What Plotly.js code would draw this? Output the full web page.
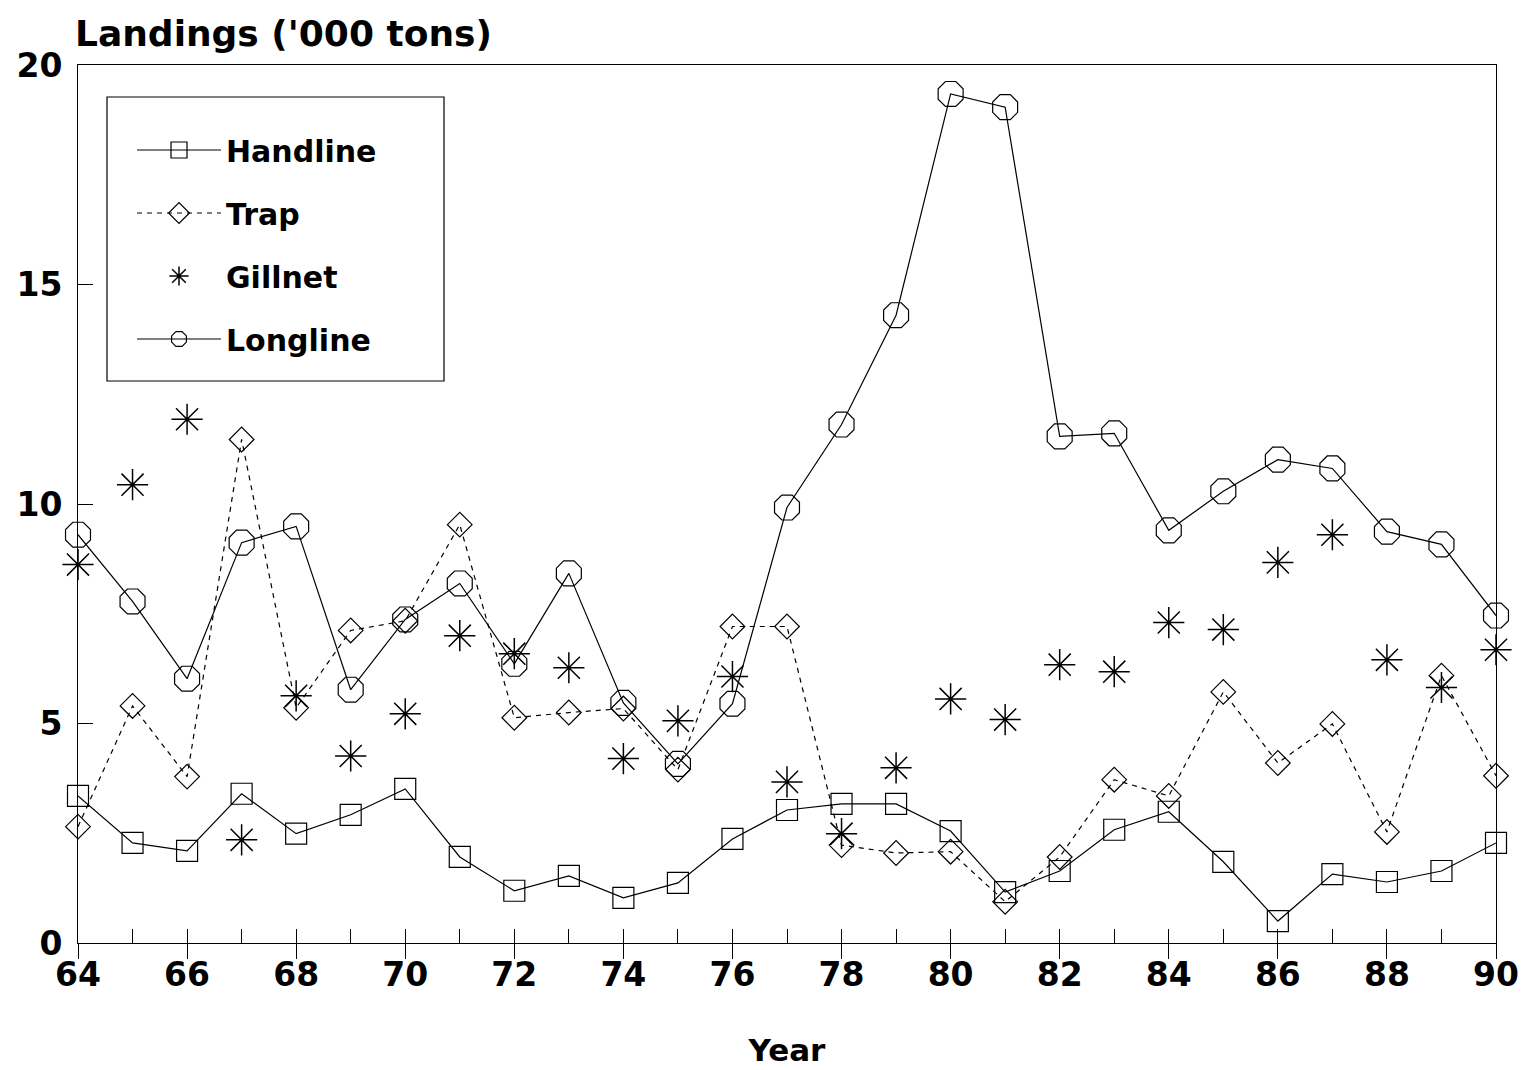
<!DOCTYPE html>
<html>
<head>
<meta charset="utf-8">
<script src="https://cdn.plot.ly/plotly-3.0.1.min.js"></script>
<style>html,body{margin:0;padding:0;background:#fff;}#chart{width:1528px;height:1070px;}</style>
</head>
<body>
<div id="chart"></div>
<script>
const years = [64,65,66,67,68,69,70,71,72,73,74,75,76,77,78,79,80,81,82,83,84,85,86,87,88,89,90];
const handline = [3.35,2.28,2.10,3.40,2.49,2.92,3.51,1.96,1.19,1.53,1.03,1.37,2.37,3.03,3.17,3.17,2.55,1.16,1.64,2.58,2.99,1.85,0.50,1.57,1.39,1.64,2.28];
const trap = [2.65,5.40,3.79,11.47,5.36,7.12,7.34,9.53,5.13,5.25,5.34,3.95,7.21,7.21,2.23,2.05,2.08,0.94,1.96,3.72,3.35,5.72,4.10,4.99,2.53,6.09,3.81];
const gillnet = [8.62,10.44,11.93,2.35,5.63,4.26,5.22,7.00,6.59,6.27,4.20,5.06,6.07,3.67,2.49,3.99,5.56,5.09,6.34,6.18,7.30,7.14,8.67,9.30,6.45,5.82,6.68];
const longline = [9.30,7.78,6.02,9.12,9.49,5.77,7.37,8.19,6.36,8.42,5.47,4.08,5.45,9.92,11.81,14.30,19.34,19.04,11.54,11.61,9.40,10.29,11.01,10.81,9.37,9.08,7.46];
const seriesNames = ["Handline","Trap","Gillnet","Longline"];
const xTickLabels = years.map(y => (y % 2 === 0 ? String(y) : ""));
const majorYears = years.filter(y => y % 2 === 0);
const yTicks = [0,5,10,15,20];

const FONT = "DejaVu Sans, Liberation Sans, Arial, sans-serif";
const blk = "#000";

const traces = [
  {x: years, y: handline, name: seriesNames[0], mode: "lines+markers", legendgroup: "a",
   line: {color: blk, width: 1.2}, marker: {symbol: "square-open", size: 21, color: blk, line: {width: 1.2}}, cliponaxis: false},
  {x: years, y: trap, name: seriesNames[1], mode: "lines+markers", legendgroup: "b",
   line: {color: blk, width: 1.2, dash: "5px,5px"}, marker: {symbol: "diamond-open", size: 19, color: blk, line: {width: 1.2}}, cliponaxis: false},
  {x: years, y: gillnet, name: seriesNames[2], mode: "markers", legendgroup: "c",
   marker: {symbol: "asterisk-open", size: 26, color: blk, line: {width: 1.5, color: blk}}, cliponaxis: false},
  {x: years, y: longline, name: seriesNames[3], mode: "lines+markers", legendgroup: "d",
   line: {color: blk, width: 1.2}, marker: {symbol: "octagon-open", size: 27, color: blk, line: {width: 1.2}}, cliponaxis: false},
  {x: [], y: [], xaxis: "x2", showlegend: false, hoverinfo: "skip"}
];

const layout = {
  width: 1528, height: 1070,
  margin: {l: 78, r: 32, t: 65, b: 127},
  paper_bgcolor: "#fff", plot_bgcolor: "#fff",
  font: {family: FONT, color: blk, size: 30},
  showlegend: true,
  title: {text: "<b>Landings ('000 tons)</b>", font: {family: FONT, size: 36, color: blk},
          x: 75/1528, xref: "container", xanchor: "left", y: 1 - 21/1070, yref: "container", yanchor: "top"},
  xaxis: {
    range: [64, 90], tickvals: years, ticktext: xTickLabels, ticks: "inside", ticklen: 14, tickwidth: 1, tickcolor: blk,
    showline: true, linecolor: blk, linewidth: 1, mirror: true, showgrid: false, zeroline: false,
    tickfont: {family: FONT, size: 33, color: blk, weight: "bold"}, ticklabelstandoff: 2,
    title: {text: "<b>Year</b>", font: {family: FONT, size: 31, color: blk}, standoff: 46}
  },
  xaxis2: {
    overlaying: "x", anchor: "y", range: [64, 90], tickvals: majorYears, ticks: "outside", ticklen: 15, tickwidth: 1, tickcolor: blk,
    showticklabels: false, showline: false, showgrid: false, zeroline: false
  },
  yaxis: {
    range: [0, 20], tickvals: yTicks, ticks: "inside", ticklen: 15, tickwidth: 1, tickcolor: blk,
    showline: true, linecolor: blk, linewidth: 1, mirror: true, showgrid: false, zeroline: false,
    tickfont: {family: FONT, size: 33, color: blk, weight: "bold"}, ticklabelstandoff: 8
  },
  legend: {
    x: (132-78)/1418, y: (943-124)/878, xanchor: "left", yanchor: "top",
    borderwidth: 0, bgcolor: "rgba(0,0,0,0)",
    font: {family: FONT, size: 30, color: blk, weight: "bold"},
    tracegroupgap: 21, itemwidth: 84
  },
  shapes: [{
    type: "rect", xref: "paper", yref: "paper", layer: "below",
    x0: (107-78)/1418, x1: (444-78)/1418, y0: (943-381)/878, y1: (943-97)/878,
    line: {color: blk, width: 1.2}, fillcolor: "#fff"
  }]
};

Plotly.newPlot("chart", traces, layout, {staticPlot: true});
</script>
</body>
</html>
